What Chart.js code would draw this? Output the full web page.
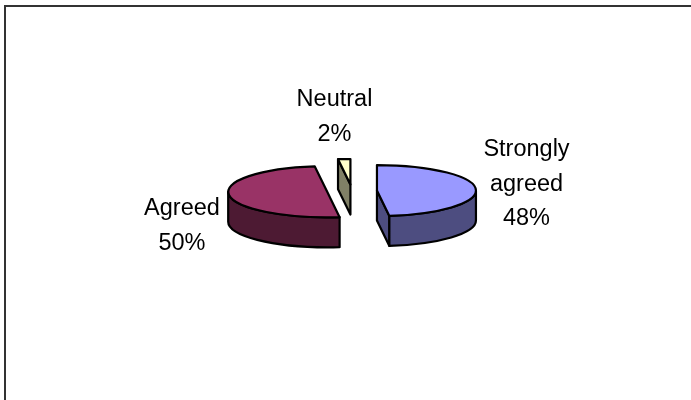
<!DOCTYPE html>
<html>
<head>
<meta charset="utf-8">
<title>Responses</title>
<script src="https://cdn.jsdelivr.net/npm/chart.js@4"></script>
<style>
    html, body { margin: 0; padding: 0; background: #fff; }
    #wrap { position: absolute; left: 0; top: 0; width: 691px; height: 400px; }
    #frame { position: absolute; left: 4px; top: 5px; right: 0; bottom: 0; border-left: 2px solid #333; border-top: 2px solid #333; }
</style>
</head>
<body>
<div id="wrap">
    <div id="frame"></div>
    <canvas id="pie" width="691" height="400"></canvas>
</div>
<script>
const categories = ['Strongly agreed', 'Agreed', 'Neutral'];
const shares = [48, 50, 2];
const topColors = ['#9999ff', '#993366', '#ffffcc'];
const wallColors = ['#4d4d80', '#4d1a33', '#808066'];

// where each label block is centred, and the first baseline
const labelSpots = [[526.5, 156], [182, 215], [334.5, 106]];
const lineGap = 34.5;

// tilt of the pie, height of its side wall, how far slices are pulled out
const tilt = 0.258;
const depth = 30;
const burst = 25;

// slice geometry on screen, y squashed around the pie centre
function sliceShape(arc, cy) {
    const p = arc.getProps(['x', 'y', 'startAngle', 'endAngle', 'outerRadius']);
    return {
        x: p.x,
        y: cy + (p.y - cy) * tilt,
        r: p.outerRadius,
        start: p.startAngle,
        end: p.endAngle
    };
}

function rimPoint(s, a) {
    return [s.x + Math.cos(a) * s.r, s.y + Math.sin(a) * s.r * tilt];
}

function drawWalls(ctx, s, color) {
    ctx.fillStyle = color;
    ctx.strokeStyle = '#000';
    ctx.lineWidth = 2.2;
    ctx.lineJoin = 'round';

    // flat cut faces that look towards the viewer
    [[s.start, -Math.PI / 2], [s.end, Math.PI / 2]].forEach(function(e) {
        if (Math.sin(e[0] + e[1]) <= 0.01) return;
        const q = rimPoint(s, e[0]);
        ctx.beginPath();
        ctx.moveTo(s.x, s.y);
        ctx.lineTo(q[0], q[1]);
        ctx.lineTo(q[0], q[1] + depth);
        ctx.lineTo(s.x, s.y + depth);
        ctx.closePath();
        ctx.fill();
        ctx.stroke();
    });

    // curved outer wall, only the front half of the ellipse shows
    const tau = Math.PI * 2;
    for (let k = -1; k <= 1; k++) {
        const from = Math.max(s.start, k * tau);
        const to = Math.min(s.end, k * tau + Math.PI);
        if (to <= from) continue;
        ctx.beginPath();
        ctx.ellipse(s.x, s.y, s.r, s.r * tilt, 0, from, to);
        ctx.ellipse(s.x, s.y + depth, s.r, s.r * tilt, 0, to, from, true);
        ctx.closePath();
        ctx.fill();
        ctx.stroke();
    }
}

function drawOutline(ctx, s) {
    ctx.strokeStyle = '#000';
    ctx.lineWidth = 2.2;
    ctx.lineJoin = 'round';
    ctx.beginPath();
    ctx.moveTo(s.x, s.y);
    ctx.ellipse(s.x, s.y, s.r, s.r * tilt, 0, s.start, s.end);
    ctx.closePath();
    ctx.stroke();
}

const tiltedPie = {
    id: 'tiltedPie',
    afterDatasetsUpdate(chart) {
        // pull each slice out along its middle angle
        chart.getDatasetMeta(0).data.forEach(function(arc) {
            const mid = (arc.startAngle + arc.endAngle) / 2;
            arc.x += Math.cos(mid) * burst;
            arc.y += Math.sin(mid) * burst;
        });
    },
    beforeDatasetsDraw(chart) {
        const ctx = chart.ctx;
        const cy = (chart.chartArea.top + chart.chartArea.bottom) / 2;
        chart.getDatasetMeta(0).data.forEach(function(arc, i) {
            drawWalls(ctx, sliceShape(arc, cy), wallColors[i]);
        });
        // squash the round pie into an ellipse while Chart.js fills the slices
        ctx.save();
        ctx.translate(0, cy);
        ctx.scale(1, tilt);
        ctx.translate(0, -cy);
    },
    afterDatasetsDraw(chart) {
        const ctx = chart.ctx;
        const cy = (chart.chartArea.top + chart.chartArea.bottom) / 2;
        ctx.restore();
        chart.getDatasetMeta(0).data.forEach(function(arc) {
            drawOutline(ctx, sliceShape(arc, cy));
        });

        ctx.fillStyle = '#000';
        ctx.font = '23.5px "Liberation Sans", Arial, sans-serif';
        ctx.textAlign = 'center';
        ctx.textBaseline = 'alphabetic';
        categories.forEach(function(name, i) {
            const lines = name.split(' ').concat(shares[i] + '%');
            lines.forEach(function(line, n) {
                ctx.fillText(line, labelSpots[i][0], labelSpots[i][1] + n * lineGap);
            });
        });
    }
};

new Chart(document.getElementById('pie'), {
    type: 'pie',
    data: {
        labels: categories,
        datasets: [{
            data: shares,
            backgroundColor: topColors,
            borderWidth: 0,
            clip: false
        }]
    },
    options: {
        responsive: false,
        animation: false,
        events: [],
        radius: 99,
        layout: { padding: { left: 13, bottom: 18 } },
        plugins: { legend: { display: false }, tooltip: { enabled: false } }
    },
    plugins: [tiltedPie]
});
</script>
</body>
</html>
